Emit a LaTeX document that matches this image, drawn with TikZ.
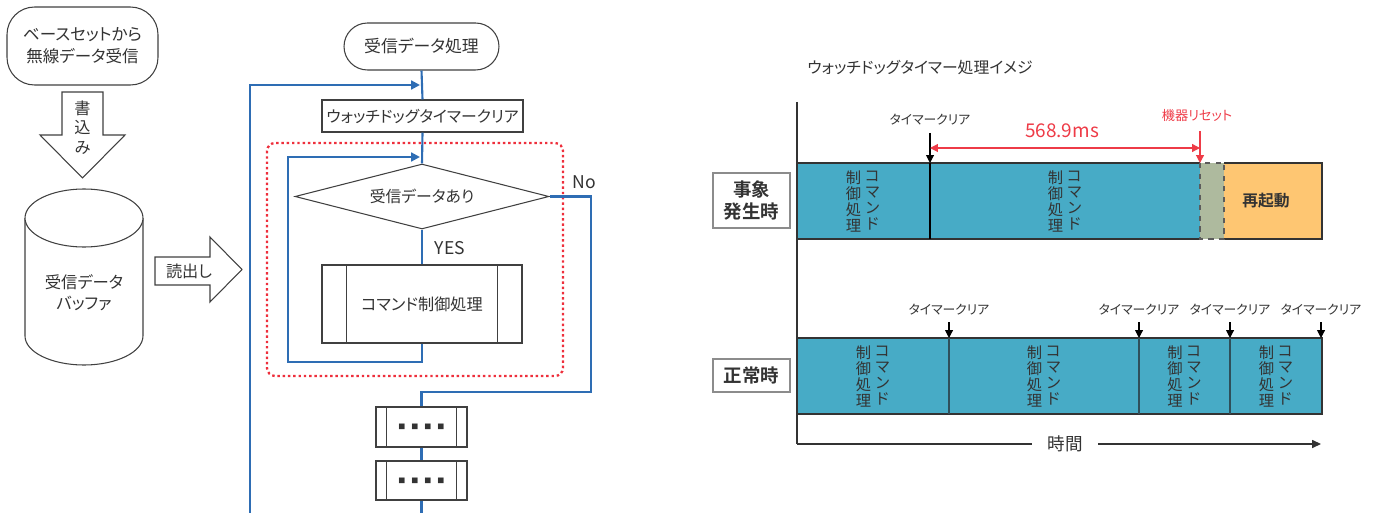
\documentclass[tikz,border=0pt]{standalone}
\usepackage{fontspec}
\setmainfont{Noto Sans CJK JP}[BoldFont={Noto Sans CJK JP Bold},RawFeature=+palt]
\usetikzlibrary{arrows.meta,shapes.geometric}
\definecolor{flowblue}{HTML}{2E6DB4}
\definecolor{dotred}{HTML}{EE2F3C}
\definecolor{barteal}{HTML}{47ABC6}
\definecolor{resetgreen}{HTML}{AEBA9E}
\definecolor{restartorange}{HTML}{FEC672}
\definecolor{txtred}{HTML}{EE3B47}
\definecolor{txtgray}{HTML}{333333}
\definecolor{boxgray}{HTML}{404040}
\definecolor{divdark}{HTML}{2F4F5A}
\newcommand{\fourdots}{{\fontsize{4}{5}\selectfont ■\hspace{3.4pt}■\hspace{3.4pt}■\hspace{3.4pt}■}}
\tikzset{
  jp/.style={text=txtgray, inner sep=0pt},
  fbox/.style={draw=boxgray, line width=0.6pt, fill=white, inner sep=0pt, text=txtgray, font=\fontsize{9}{11}\selectfont},
  flow/.style={draw=flowblue, line width=1.2pt},
  flowarr/.style={flow, -{Triangle[length=5pt,width=5pt]}},
  blockarr/.style={draw=boxgray, line width=0.6pt, fill=white},
  colt/.style={text=txtgray, inner sep=0pt, align=center, font=\fontsize{8.7}{9.1}\selectfont},
  clr/.style={text=txtgray, inner sep=0pt, font=\fontsize{7.3}{8}\selectfont},
  tick/.style={draw=black, line width=0.6pt, -{Triangle[length=4.5pt,width=4.5pt]}},
  lblbox/.style={draw=gray!90, line width=0.8pt, fill=white, inner sep=0pt, text=txtgray, align=center, font=\bfseries\fontsize{10.5}{13}\selectfont, minimum width=1.54cm},
}
\begin{document}
\begin{tikzpicture}[x=0.02cm,y=-0.02cm]
\useasboundingbox (0,0) rectangle (1378,513);

% ---------- left part ----------
\node[fbox, rounded corners=0.55cm, minimum width=3.02cm, minimum height=1.56cm, align=center,
      font=\fontsize{9.4}{12.5}\selectfont] (src) at (82.5,46) {ベースセットから\\無線データ受信};

\draw[blockarr] (62,92) -- (103,92) -- (103,135) -- (125,135) -- (82.5,178) -- (40,135) -- (62,135) -- cycle;
\node[jp, align=center, font=\fontsize{9.2}{11}\selectfont] (wr) at (82.5,127.5) {書\\込\\み};

% cylinder
\draw[blockarr] (25,218) -- (25,336) arc[start angle=180, end angle=360, x radius=1.18cm, y radius=0.58cm] -- (143,218);
\draw[blockarr] (84,218) ellipse [x radius=1.18cm, y radius=0.58cm];
\node[jp, align=center, font=\fontsize{9.3}{12}\selectfont] (buf) at (84,293) {受信データ\\バッファ};

\draw[blockarr] (155,257) -- (210,257) -- (210,237) -- (242,269.5) -- (210,302) -- (210,285) -- (155,285) -- cycle;
\node[jp, font=\fontsize{9.2}{11}\selectfont] (rd) at (189,271) {読出し};

% ---------- flowchart ----------
\node[fbox, rounded corners=0.47cm, minimum width=3.1cm, minimum height=0.94cm, font=\fontsize{9.6}{11}\selectfont] (start) at (421.5,46.5) {受信データ処理};
\node[fbox, minimum width=4.02cm, minimum height=0.64cm] (wdt) at (422.5,116) {ウォッチドッグタイマークリア};
\node[fbox, shape=diamond, minimum width=5.08cm, minimum height=1.3cm, aspect=3.9] (dec) at (422,196.5) {受信データあり};
\node[fbox, minimum width=4cm, minimum height=1.56cm, font=\fontsize{9.2}{11}\selectfont] (cmd) at (422,304) {コマンド制御処理};
\draw[boxgray, line width=0.6pt] ([xshift=0.5cm]cmd.north west) -- ([xshift=0.5cm]cmd.south west)
      ([xshift=-0.5cm]cmd.north east) -- ([xshift=-0.5cm]cmd.south east);
\node[fbox, minimum width=1.82cm, minimum height=0.8cm] (d1) at (421.5,427) {\fourdots};
\draw[boxgray, line width=0.6pt] ([xshift=0.22cm]d1.north west) -- ([xshift=0.22cm]d1.south west)
      ([xshift=-0.22cm]d1.north east) -- ([xshift=-0.22cm]d1.south east);
\node[fbox, minimum width=1.82cm, minimum height=0.78cm] (d2) at (421.5,480.5) {\fourdots};
\draw[boxgray, line width=0.6pt] ([xshift=0.22cm]d2.north west) -- ([xshift=0.22cm]d2.south west)
      ([xshift=-0.22cm]d2.north east) -- ([xshift=-0.22cm]d2.south east);

\draw[dotred, line width=1.3pt, dash pattern=on 1.4pt off 1.6pt, rounded corners=0.16cm] (267,143) rectangle (563,376);

\coordinate (j1) at (420,85);
\coordinate (lbot) at (250,513);
\coordinate (j2) at (420,157);
\coordinate (ilb) at (288,362);
\coordinate (nr) at (591,392);
\coordinate (bot) at (421.5,513);

\draw[flow] (start.south) -- (wdt.north);
\draw[flowarr] (lbot) |- (j1);
\draw[flow] (wdt.south) -- (dec.north);
\draw[flow] (dec.south) -- (cmd.north);
\draw[flowarr] (cmd.south) -- (cmd.south |- ilb) -- (ilb) |- (j2);
\draw[flow] (dec.east) -| (nr) -| (d1.north);
\draw[flow] (d1.south) -- (d2.north);
\draw[flow] (d2.south) -- (bot);

\node[jp, font=\fontsize{10}{12}\selectfont] (yes) at (450,248) {YES};
\node[jp, font=\fontsize{10}{12}\selectfont] (no) at (584,182) {No};

% ---------- timing chart ----------
\node[jp, font=\fontsize{9}{10}\selectfont] (title) at (920,68) {ウォッチドッグタイマー処理イメジ};

% event bar
\fill[barteal] (797,163) rectangle (1200,239);
\fill[resetgreen] (1200,163) rectangle (1224,239);
\fill[restartorange] (1224,163) rectangle (1322,239);
\draw[txtgray, line width=0.7pt] (1200,163) -- (797,163) (797,239) -- (1200,239);
\draw[txtgray, line width=0.7pt] (1224,163) -- (1322,163) -- (1322,239) -- (1224,239);
\draw[txtgray!80, line width=0.7pt, dashed] (1200,163) rectangle (1224,239);
\draw[black, line width=0.6pt] (930,163) -- (930,239);

% normal bar
\fill[barteal] (797,338) rectangle (1322,414);
\draw[txtgray, line width=0.7pt] (797,338) rectangle (1322,414);
\foreach \x in {949,1139,1230} \draw[divdark, line width=1.1pt] (\x,338) -- (\x,414);

% axes
\coordinate (ax0) at (797,102);
\coordinate (axo) at (797,444);
\coordinate (axe) at (1321,444);
\draw[txtgray, line width=0.7pt] (ax0) -- (axo);
\draw[txtgray, line width=0.7pt, -{Triangle[length=5pt,width=4.5pt]}] (axo) -- (axe);
\node[fill=white, inner xsep=0.3cm, inner ysep=0pt, text=txtgray, font=\fontsize{10}{12}\selectfont] (time) at (1065,444) {時間};

% column texts
\foreach \c/\y [count=\i] in {863/201,1065/201,873/376,1044/376,1184.5/376,1276/376} {
  \node[colt] (cl\i) at (\c-9.5,\y) {制\\御\\処\\理};
  \node[colt] (cr\i) at (\c+9.5,\y) {コ\\マ\\ン\\ド};
}
\node[text=txtgray, inner sep=0pt, font=\bfseries\fontsize{9}{11}\selectfont] (rst) at (1266,201) {再起動};

% labels
\node[lblbox, minimum height=1.1cm] (ev) at (751.5,200.5) {事象\\発生時};
\node[lblbox, minimum height=0.66cm] (nm) at (751.5,375.5) {正常時};

% timer-clear marks
\node[clr] (tc0) at (930,120) {タイマークリア};
\coordinate (tc0a) at (930,133); \coordinate (tc0b) at (930,163);
\draw[tick] (tc0a) -- (tc0b);
\foreach \x [count=\i] in {949,1139,1230,1321} {
  \node[clr] (tc\i) at (\x,310) {タイマークリア};
  \coordinate (tca\i) at (\x,322); \coordinate (tcb\i) at (\x,338);
  \draw[tick] (tca\i) -- (tcb\i);
}

% reset
\node[text=txtred, inner sep=0pt, font=\fontsize{7.5}{9}\selectfont] (reset) at (1197,116) {機器リセット};
\coordinate (rsa) at (1200,131); \coordinate (rsb) at (1200,163);
\draw[txtred, line width=0.7pt, -{Triangle[length=4.5pt,width=4.5pt]}] (rsa) -- (rsb);
\coordinate (ml) at (930,148); \coordinate (mr) at (1200,148);
\draw[txtred, line width=0.7pt, {Triangle[length=4.5pt,width=4.5pt]}-{Triangle[length=4.5pt,width=4.5pt]}] (ml) -- (mr);
\node[text=txtred, inner sep=0pt, font=\fontsize{10.8}{12}\selectfont] (ms) at (1062,131) {568.9ms};
\end{tikzpicture}
\end{document}
